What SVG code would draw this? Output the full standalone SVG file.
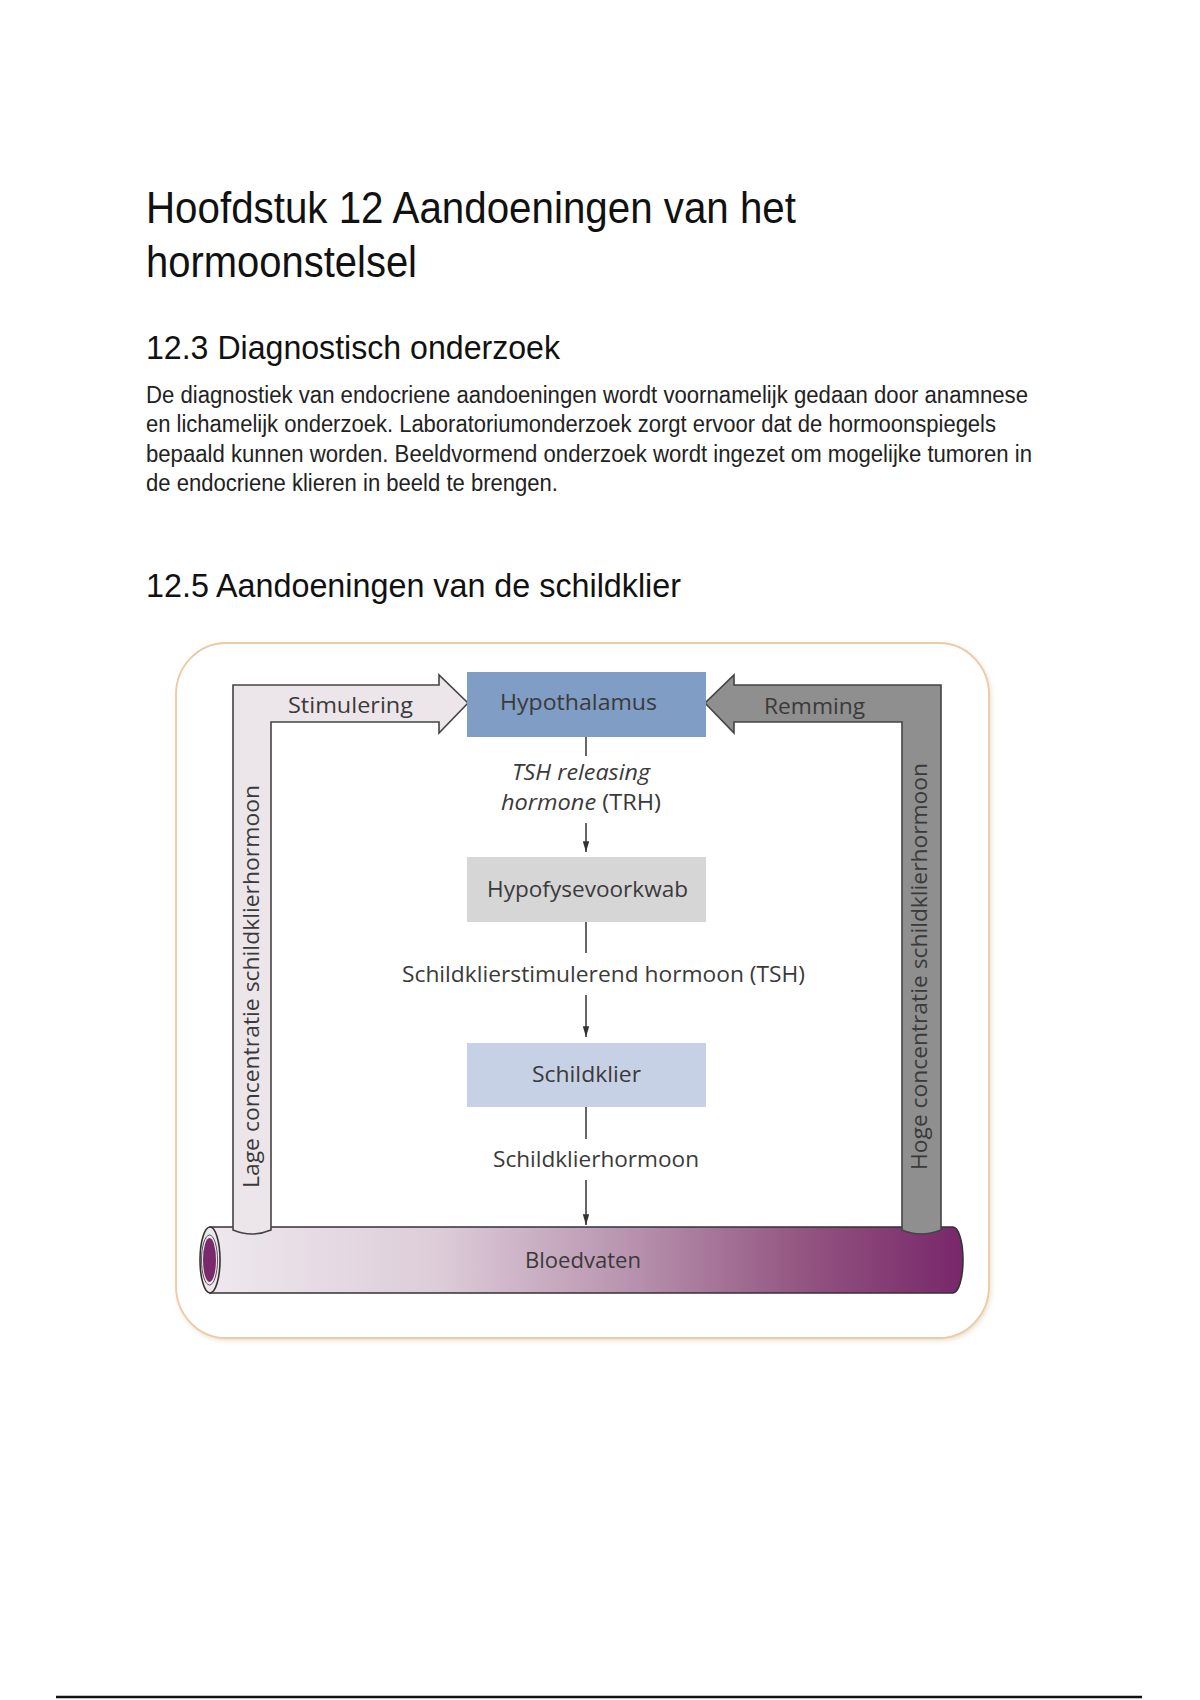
<svg xmlns="http://www.w3.org/2000/svg" width="1200" height="1700" viewBox="0 0 1200 1700">
<style>
.page{font-family:"Liberation Sans",Arial,sans-serif;fill:#111}
.lbl{font-family:"Open Sans","Noto Sans",sans-serif;font-size:21px;fill:#3a3a3a}
.conn{stroke:#333;stroke-width:1.5;fill:none}
.arrowbar{stroke:#444;stroke-width:1.6;stroke-linejoin:miter}
.box{stroke:none}
</style>
<defs>
<linearGradient id="vessel" x1="0" y1="0" x2="1" y2="0">
<stop offset="0" stop-color="#eee8ee"/>
<stop offset="0.3" stop-color="#ddcdd9"/>
<stop offset="0.55" stop-color="#b995b0"/>
<stop offset="0.8" stop-color="#91527f"/>
<stop offset="1" stop-color="#78276a"/>
</linearGradient>
<marker id="ah" viewBox="0 0 10 6" refX="10" refY="3" markerUnits="userSpaceOnUse" markerWidth="11" markerHeight="6.5" orient="auto">
<path d="M0,0 L10,3 L0,6 Z" fill="#333"/>
</marker>
<filter id="soft" x="-5%" y="-5%" width="110%" height="110%">
<feDropShadow dx="1.5" dy="2" stdDeviation="2" flood-color="#d9c4a8" flood-opacity="0.5"/>
</filter>
</defs>
<rect width="1200" height="1700" fill="#ffffff"/>

<g id="page-text" class="page">
<text x="146" y="223" font-size="45" textLength="650" lengthAdjust="spacingAndGlyphs">Hoofdstuk 12 Aandoeningen van het</text>
<text x="146" y="277" font-size="45" textLength="271" lengthAdjust="spacingAndGlyphs">hormoonstelsel</text>
<text x="146" y="359" font-size="34" textLength="414" lengthAdjust="spacingAndGlyphs">12.3 Diagnostisch onderzoek</text>
<g font-size="23" fill="#222">
<text x="146" y="403" textLength="882" lengthAdjust="spacingAndGlyphs">De diagnostiek van endocriene aandoeningen wordt voornamelijk gedaan door anamnese</text>
<text x="146" y="432" textLength="850" lengthAdjust="spacingAndGlyphs">en lichamelijk onderzoek. Laboratoriumonderzoek zorgt ervoor dat de hormoonspiegels</text>
<text x="146" y="462" textLength="886" lengthAdjust="spacingAndGlyphs">bepaald kunnen worden. Beeldvormend onderzoek wordt ingezet om mogelijke tumoren in</text>
<text x="146" y="491" textLength="412" lengthAdjust="spacingAndGlyphs">de endocriene klieren in beeld te brengen.</text>
</g>
<text x="146" y="597" font-size="34" textLength="535" lengthAdjust="spacingAndGlyphs">12.5 Aandoeningen van de schildklier</text>
</g>

<g id="frame">
<rect x="176" y="643" width="813" height="695" rx="50" ry="52" fill="#fff" stroke="#eccaa3" stroke-width="1.8" filter="url(#soft)"/>
</g>

<g id="node-bloedvaten">
<path d="M210,1227 L953,1227 A10,33 0 0 1 953,1293 L210,1293 Z" fill="url(#vessel)" stroke="#333" stroke-width="1.6"/>
<ellipse cx="210" cy="1260" rx="10" ry="33" fill="#eee8ee" stroke="#333" stroke-width="1.6"/>
<ellipse cx="209.5" cy="1260" rx="8" ry="25" fill="none" stroke="#555" stroke-width="1"/>
<ellipse cx="209.5" cy="1260" rx="6.5" ry="22" fill="#7a2a6c"/>
<text class="lbl" x="525" y="1268" textLength="116" lengthAdjust="spacingAndGlyphs" fill="#3b2a38">Bloedvaten</text>
</g>

<g id="node-stimulering">
<path class="arrowbar" d="M233,1230 L233,685 L439,685 L439,675 L468,703 L439,733 L439,722 L271,722 L271,1230 Q252,1238 233,1230 Z" fill="#ece6ea"/>
<text class="lbl" x="288" y="713" textLength="125" lengthAdjust="spacingAndGlyphs">Stimulering</text>
<text class="lbl" font-size="17" transform="translate(259,1188) rotate(-90)" textLength="403" lengthAdjust="spacingAndGlyphs">Lage concentratie schildklierhormoon</text>
</g>

<g id="node-remming">
<path class="arrowbar" d="M941,1230 L941,685 L734,685 L734,675 L705,703 L734,733 L734,722 L902,722 L902,1230 Q921,1238 941,1230 Z" fill="#8f8f8f"/>
<text class="lbl" x="764" y="714" textLength="101" lengthAdjust="spacingAndGlyphs" fill="#333">Remming</text>
<text class="lbl" font-size="17" transform="translate(927,1170) rotate(-90)" textLength="407" lengthAdjust="spacingAndGlyphs" fill="#3d3d3d">Hoge concentratie schildklierhormoon</text>
</g>

<g id="node-hypothalamus">
<rect class="box" x="467" y="672" width="239" height="65" fill="#7f9dc5"/>
<text class="lbl" x="500" y="710" textLength="157" lengthAdjust="spacingAndGlyphs" fill="#22304d">Hypothalamus</text>
</g>

<g id="node-hypofyse">
<rect class="box" x="467" y="857" width="239" height="65" fill="#d6d6d6"/>
<text class="lbl" x="487" y="897" textLength="201" lengthAdjust="spacingAndGlyphs">Hypofysevoorkwab</text>
</g>

<g id="node-schildklier">
<rect class="box" x="467" y="1043" width="239" height="64" fill="#c7d1e6"/>
<text class="lbl" x="532" y="1082" textLength="109" lengthAdjust="spacingAndGlyphs">Schildklier</text>
</g>

<g id="connectors">
<line class="conn" x1="586" y1="737" x2="586" y2="756"/>
<line class="conn" x1="586" y1="823" x2="586" y2="852" marker-end="url(#ah)"/>
<line class="conn" x1="586" y1="922" x2="586" y2="953"/>
<line class="conn" x1="586" y1="995" x2="586" y2="1037" marker-end="url(#ah)"/>
<line class="conn" x1="586" y1="1107" x2="586" y2="1139"/>
<line class="conn" x1="586" y1="1180" x2="586" y2="1225" marker-end="url(#ah)"/>
<text class="lbl" x="512" y="780" font-style="italic" textLength="138" lengthAdjust="spacingAndGlyphs">TSH releasing</text>
<text class="lbl" x="501" y="810" textLength="160" lengthAdjust="spacingAndGlyphs"><tspan font-style="italic">hormone</tspan> (TRH)</text>
<text class="lbl" x="402" y="982" textLength="403" lengthAdjust="spacingAndGlyphs">Schildklierstimulerend hormoon (TSH)</text>
<text class="lbl" x="493" y="1167" textLength="206" lengthAdjust="spacingAndGlyphs">Schildklierhormoon</text>
</g>

<line id="footer-rule" x1="56" y1="1697" x2="1142" y2="1697" stroke="#111" stroke-width="2.5"/>
</svg>
